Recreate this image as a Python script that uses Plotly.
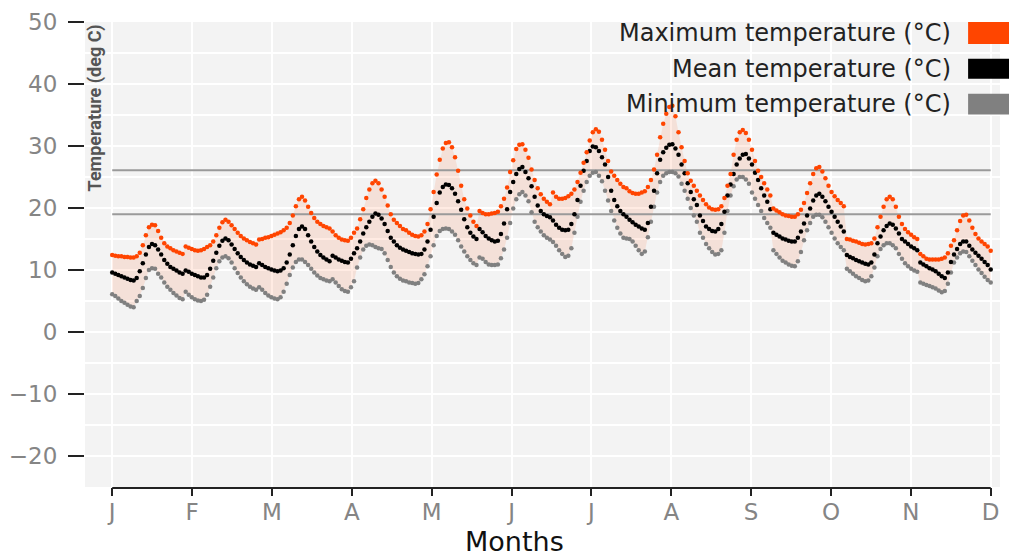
import numpy as np
import plotly.graph_objects as go

# ---------------- data ----------------
months = ["J", "F", "M", "A", "M", "J", "J", "A", "S", "O", "N", "D"]

max_temp = [
    [12.4, 12.3, 12.2, 12.2, 12.1, 12.1, 12.0, 12.0, 12.2, 12.8, 14.0, 15.6, 16.9, 17.3, 17.2, 16.3, 15.2, 14.3, 13.8, 13.5, 13.2, 13.0, 12.8, 12.6],
    [13.8, 13.6, 13.4, 13.2, 13.1, 13.2, 13.4, 13.7, 14.0, 14.6, 15.6, 16.8, 17.7, 18.1, 17.8, 17.2, 16.6, 16.0, 15.5, 15.1, 14.8, 14.5, 14.3, 14.1],
    [14.9, 15.0, 15.2, 15.3, 15.5, 15.7, 15.9, 16.1, 16.4, 16.8, 17.6, 18.8, 20.3, 21.4, 21.8, 21.2, 20.2, 19.2, 18.4, 17.8, 17.4, 17.1, 16.9, 16.7],
    [16.2, 15.6, 15.2, 14.9, 14.8, 14.7, 15.2, 16.0, 16.7, 18.2, 19.8, 21.6, 23.0, 24.0, 24.4, 24.0, 23.0, 21.8, 20.4, 19.0, 18.1, 17.6, 17.1, 16.6],
    [16.4, 16.0, 15.7, 15.5, 15.4, 15.6, 16.2, 17.4, 19.8, 22.6, 25.4, 27.8, 29.6, 30.5, 30.6, 29.8, 28.2, 26.0, 23.6, 21.4, 19.9, 18.8, 17.8, 17.1],
    [19.5, 19.2, 19.0, 19.0, 19.1, 19.2, 19.4, 20.3, 21.5, 23.3, 25.8, 27.7, 29.5, 30.2, 30.3, 29.4, 28.1, 26.2, 24.5, 23.2, 22.2, 21.5, 21.0, 20.6],
    [22.5, 21.8, 21.5, 21.5, 21.6, 21.9, 22.3, 23.0, 24.2, 25.7, 27.3, 29.0, 30.9, 32.2, 32.7, 32.3, 31.0, 29.4, 27.6, 25.9, 25.2, 24.5, 23.9, 23.4],
    [23.2, 22.7, 22.4, 22.3, 22.3, 22.5, 22.7, 23.4, 24.5, 26.2, 28.6, 31.4, 33.6, 35.2, 36.3, 36.5, 34.8, 32.2, 29.8, 27.6, 25.6, 24.4, 23.6, 22.8],
    [22.0, 21.3, 20.6, 20.1, 19.8, 19.7, 19.8, 20.3, 21.6, 23.6, 25.5, 28.6, 31.0, 32.2, 32.6, 32.1, 31.0, 29.4, 27.6, 26.0, 25.0, 24.0, 23.0, 22.0],
    [19.9, 19.6, 19.3, 19.0, 18.8, 18.7, 18.6, 18.6, 19.0, 19.7, 20.8, 22.4, 24.0, 25.5, 26.4, 26.6, 25.9, 24.8, 23.6, 22.6, 21.9, 21.3, 20.8, 20.3],
    [15.0, 14.9, 14.7, 14.6, 14.4, 14.2, 14.1, 14.2, 14.3, 15.1, 16.9, 18.6, 20.2, 21.4, 21.8, 21.4, 20.2, 18.6, 17.4, 16.6, 16.1, 15.7, 15.3, 15.0],
    [12.6, 12.2, 11.8, 11.7, 11.7, 11.7, 11.7, 11.8, 12.0, 12.7, 13.9, 14.8, 16.4, 17.9, 18.8, 18.9, 18.0, 16.8, 15.8, 15.1, 14.6, 14.2, 13.8, 13.1],
]

mean_temp = [
    [9.6, 9.4, 9.2, 9.0, 8.8, 8.6, 8.4, 8.3, 8.7, 9.8, 11.1, 12.5, 13.7, 14.2, 14.0, 13.3, 12.5, 11.6, 11.0, 10.5, 10.2, 9.9, 9.6, 9.4],
    [9.9, 9.7, 9.4, 9.2, 9.0, 8.8, 8.8, 9.2, 10.2, 11.5, 12.8, 13.9, 14.7, 15.1, 14.8, 14.1, 13.4, 12.7, 12.1, 11.6, 11.2, 10.9, 10.7, 10.5],
    [11.1, 10.8, 10.5, 10.3, 10.1, 9.9, 9.8, 9.9, 10.3, 11.2, 12.5, 14.0, 15.5, 16.6, 17.0, 16.6, 15.6, 14.6, 13.7, 13.0, 12.4, 12.0, 11.7, 11.4],
    [12.3, 12.0, 11.7, 11.5, 11.3, 11.2, 11.8, 12.7, 13.5, 14.6, 15.9, 16.9, 17.8, 18.6, 19.1, 18.9, 18.3, 17.4, 16.3, 15.2, 14.6, 14.0, 13.6, 13.3],
    [13.1, 12.9, 12.7, 12.6, 12.5, 12.6, 13.3, 14.6, 16.5, 18.6, 20.8, 22.5, 23.4, 23.8, 23.7, 23.2, 22.3, 21.1, 19.7, 18.2, 16.9, 16.0, 15.4, 15.0],
    [16.6, 16.1, 15.5, 15.1, 14.8, 14.6, 14.7, 15.8, 17.5, 19.8, 22.6, 24.2, 25.5, 26.3, 26.6, 25.8, 24.8, 23.5, 21.8, 20.4, 19.5, 19.0, 18.7, 18.5],
    [18.0, 17.3, 16.8, 16.5, 16.4, 16.5, 17.4, 19.0, 21.3, 23.6, 26.0, 27.6, 29.2, 29.9, 29.8, 29.2, 28.2, 27.0, 25.0, 22.8, 21.3, 20.3, 19.5, 19.0],
    [18.6, 18.1, 17.7, 17.3, 17.0, 16.7, 16.5, 17.6, 20.2, 22.8, 25.6, 27.8, 29.0, 29.7, 30.2, 30.3, 29.6, 28.6, 27.0, 25.6, 24.0, 22.6, 21.4, 20.5],
    [18.8, 17.9, 17.0, 16.6, 16.3, 16.2, 16.6, 17.4, 19.4, 22.0, 23.8, 25.5, 27.0, 28.0, 28.6, 28.7, 28.0, 27.0, 25.7, 24.5, 23.2, 22.0, 21.0, 19.8],
    [16.0, 15.7, 15.4, 15.1, 14.9, 14.7, 14.6, 14.6, 15.2, 16.2, 17.5, 18.8, 19.9, 21.2, 22.0, 22.3, 21.8, 21.1, 20.2, 19.4, 18.6, 17.8, 17.0, 16.2],
    [12.4, 12.1, 11.9, 11.6, 11.4, 11.2, 11.0, 10.9, 11.2, 12.5, 14.3, 15.4, 16.4, 17.1, 17.5, 17.3, 16.7, 15.9, 15.0, 14.6, 14.2, 13.8, 13.5, 13.2],
    [11.2, 10.9, 10.6, 10.3, 10.1, 9.8, 9.4, 9.0, 8.7, 9.6, 11.3, 12.5, 13.4, 14.2, 14.6, 14.6, 13.9, 13.3, 12.8, 12.3, 11.8, 11.3, 10.8, 10.1],
]

min_temp = [
    [6.1, 5.8, 5.4, 5.0, 4.7, 4.4, 4.1, 4.0, 5.0, 5.8, 7.1, 8.7, 10.0, 10.3, 10.2, 9.4, 8.8, 8.0, 7.3, 6.8, 6.3, 5.9, 5.5, 5.3],
    [6.5, 6.0, 5.6, 5.3, 5.1, 5.0, 5.2, 6.0, 7.3, 8.8, 10.3, 11.4, 12.0, 12.2, 11.9, 11.2, 10.3, 9.5, 8.8, 8.2, 7.7, 7.3, 7.0, 6.8],
    [7.2, 6.8, 6.3, 5.9, 5.6, 5.4, 5.3, 5.6, 6.5, 7.8, 9.2, 10.4, 11.3, 11.7, 11.7, 11.3, 10.8, 10.2, 9.6, 9.1, 8.7, 8.5, 8.3, 8.2],
    [8.5, 8.0, 7.4, 6.9, 6.6, 6.5, 7.2, 8.2, 10.4, 12.0, 13.3, 13.9, 14.1, 14.0, 13.7, 13.5, 13.4, 12.7, 11.6, 10.5, 9.6, 9.0, 8.6, 8.3],
    [8.2, 8.0, 7.9, 7.8, 7.9, 8.5, 9.3, 10.6, 12.2, 14.0, 15.5, 16.3, 16.6, 16.7, 16.6, 16.2, 15.7, 14.8, 13.8, 13.0, 12.2, 11.6, 11.1, 10.8],
    [12.0, 11.8, 11.3, 10.9, 10.8, 10.8, 10.9, 11.9, 13.3, 15.2, 17.6, 19.9, 21.4, 22.2, 22.6, 22.0, 21.1, 19.3, 17.8, 16.9, 16.2, 15.6, 15.2, 14.9],
    [14.5, 13.9, 13.2, 12.6, 12.1, 12.3, 13.5, 16.0, 18.6, 21.0, 22.8, 24.2, 25.2, 25.7, 25.8, 25.2, 24.3, 22.8, 21.2, 19.5, 18.0, 16.8, 15.9, 15.2],
    [15.1, 15.0, 14.6, 13.9, 13.2, 12.6, 13.0, 15.3, 17.8, 20.2, 22.5, 24.2, 25.2, 25.6, 25.8, 25.8, 25.6, 25.1, 23.9, 22.8, 21.5, 20.0, 18.8, 17.8],
    [16.0, 15.2, 14.2, 13.5, 12.9, 12.5, 12.6, 13.2, 16.0, 19.5, 22.0, 23.5, 24.6, 25.0, 25.0, 24.6, 23.9, 22.5, 21.5, 20.5, 19.5, 18.4, 17.6, 16.8],
    [13.2, 12.6, 12.0, 11.5, 11.2, 10.9, 10.7, 10.6, 11.4, 12.9, 14.8, 16.4, 17.6, 18.6, 18.9, 18.9, 18.5, 17.8, 16.9, 16.0, 15.1, 14.3, 13.7, 13.2],
    [10.2, 9.8, 9.4, 9.0, 8.7, 8.4, 8.2, 8.3, 9.0, 10.4, 12.2, 13.4, 14.0, 14.3, 14.3, 14.0, 13.5, 12.6, 11.8, 11.1, 10.6, 10.2, 9.9, 9.7],
    [8.0, 7.8, 7.6, 7.4, 7.2, 7.0, 6.7, 6.4, 6.6, 7.8, 9.6, 11.2, 12.0, 12.7, 13.0, 12.9, 12.2, 11.5, 10.8, 10.1, 9.5, 8.9, 8.4, 8.0],
]

reference_lines = [26.1, 19.0]
y_tick_values = [-20, -10, 0, 10, 20, 30, 40, 50]
series_names = ["Maximum temperature (°C)", "Mean temperature (°C)", "Minimum temperature (°C)"]

# ---------------- styling ----------------
C_MAX, C_MEAN, C_MIN = "#ff4500", "#000000", "#808080"
BAND = "rgba(255,69,0,0.11)"
TICK_FONT = dict(family="DejaVu Sans", size=23, color="#858585")


def flat(series):
    return [v for month in series for v in month]


mx, mn, me = flat(max_temp), flat(min_temp), flat(mean_temp)
x = list(range(len(mx)))
tick_pos = list(np.linspace(x[0], x[-1], len(months)))

fig = go.Figure()
# band between min and max
fig.add_trace(go.Scatter(x=x, y=mn, mode="lines", line=dict(width=0),
                         hoverinfo="skip", showlegend=False))
fig.add_trace(go.Scatter(x=x, y=mx, mode="lines", line=dict(width=0),
                         fill="tonexty", fillcolor=BAND,
                         hoverinfo="skip", showlegend=False))
# reference lines
for r in reference_lines:
    fig.add_trace(go.Scatter(x=[x[0], x[-1]], y=[r, r], mode="lines",
                             line=dict(color="#9a9a9a", width=2),
                             hoverinfo="skip", showlegend=False))
# dotted series
for ys, col, name in [(mn, C_MIN, series_names[2]),
                      (me, C_MEAN, series_names[1]),
                      (mx, C_MAX, series_names[0])]:
    fig.add_trace(go.Scatter(x=x, y=ys, mode="markers", name=name,
                             marker=dict(color=col, size=4.5),
                             showlegend=False))

L, R, T, B = 82, 9, 20, 71
W, H = 1009, 558
pw, ph = W - L - R, H - T - B


def px_x(p):
    return (p - L) / pw


def px_y(p):
    return (H - B - p) / ph


annotations = []
shapes = []
# legend (text right-aligned, swatch to the right)
rows = [(31, 20, 42, C_MAX), (67, 57, 77, C_MEAN), (102, 92, 113, C_MIN)]
for name, (yc, y0, y1, col) in zip(series_names, rows):
    annotations.append(dict(text=name, xref="paper", yref="paper",
                            x=px_x(953), y=px_y(yc), xanchor="right", yanchor="middle",
                            showarrow=False,
                            font=dict(family="DejaVu Sans", size=24, color="#222222")))
    shapes.append(dict(type="rect", xref="paper", yref="paper",
                       x0=px_x(968), x1=px_x(1012), y0=px_y(y1), y1=px_y(y0),
                       fillcolor=col, line=dict(width=0), layer="above"))

# y-axis title inside the plot
annotations.append(dict(text="<b>Temperature (deg C)</b>", textangle=-90,
                        xref="paper", yref="paper", x=px_x(92), y=1.0,
                        xanchor="center", yanchor="top", showarrow=False,
                        font=dict(family="Roboto", size=18, color="#555555")))
# x-axis title
annotations.append(dict(text="Months", xref="paper", yref="paper",
                        x=px_x(513), y=px_y(542), xanchor="center", yanchor="middle",
                        showarrow=False,
                        font=dict(family="DejaVu Sans", size=27, color="#111111")))

# x axis line only spanning J..D
shapes.append(dict(type="line", xref="x", yref="paper", x0=x[0], x1=x[-1],
                   y0=-0.002, y1=-0.002, line=dict(color="#222222", width=2),
                   layer="above"))

x_lo = x[0] - (109.3 - L) / (881.4 / (len(x) - 1))
x_hi = x[-1] + (W - R - 990.7) / (881.4 / (len(x) - 1))

fig.update_layout(
    width=W, height=H,
    margin=dict(l=L, r=R, t=T, b=B, pad=0),
    paper_bgcolor="white",
    plot_bgcolor="#f3f3f3",
    showlegend=False,
    annotations=annotations,
    shapes=shapes,
    xaxis=dict(range=[x_lo, x_hi], tickmode="array", tickvals=tick_pos, ticktext=months,
               ticks="outside", ticklen=8, tickwidth=2, tickcolor="#222222",
               showgrid=True, gridcolor="white", gridwidth=2,
               zeroline=False, showline=False, tickfont=TICK_FONT, ticklabelstandoff=-4),
    yaxis=dict(range=[-25, 50], tickmode="array", tickvals=y_tick_values,
               ticks="outside", ticklen=16, tickwidth=2, tickcolor="#222222",
               showgrid=True, gridcolor="white", gridwidth=2,
               minor=dict(tick0=0, dtick=5, showgrid=True, gridcolor="white", gridwidth=2, ticks=""),
               zeroline=False, showline=False, tickfont=TICK_FONT, ticklabelstandoff=6),
)

fig.write_html(
    "out.html",
    config={"displayModeBar": False},
    post_script=(
        "document.body.style.margin='0';"
        "var d=document.getElementById('{plot_id}');"
        "d.style.position='absolute';d.style.left='0px';d.style.top='0px';"
    ),
)
